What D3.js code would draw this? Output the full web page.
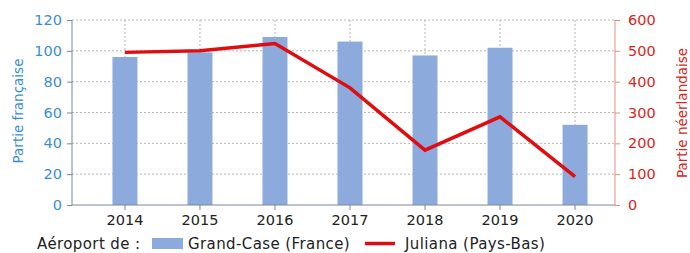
<!DOCTYPE html>
<html><head><meta charset="utf-8">
<script src="https://cdn.jsdelivr.net/npm/d3@7"></script>
<style>
html,body{margin:0;padding:0;background:#fff;}
svg{display:block;font-family:"DejaVu Sans",sans-serif;}
</style></head>
<body><svg id="c" width="690" height="253"></svg>
<script>
const years = ["2014","2015","2016","2017","2018","2019","2020"];
const grandCase = [96, 99, 109, 106, 97, 102, 52];
const juliana = [495, 500, 524, 380, 178, 286, 92];
const leftTicks = [0,20,40,60,80,100,120];
const rightTicks = [0,100,200,300,400,500,600];

(function(){
const svg = d3.select("#c");
const axL = 72, axR = 615, yTop = 20, yBot = 205;
const blue = "#3a8fd2", red = "#d9261c";

const x = d3.scaleBand().domain(years).range([87.5, 612.5]).paddingInner(0.667).paddingOuter(0.333);
const xc = d => x(d) + x.bandwidth()/2;
const yL = d3.scaleLinear().domain([0,120]).range([yBot, yTop]);
const yR = d3.scaleLinear().domain([0,600]).range([yBot, yTop]);

svg.append("g").selectAll("line").data(leftTicks.filter(d=>d>0)).join("line")
  .attr("x1", axL).attr("x2", axR).attr("y1", d=>yL(d)).attr("y2", d=>yL(d))
  .attr("stroke","#b5b5b5").attr("stroke-width",1).attr("stroke-dasharray","2,2");
svg.append("g").selectAll("line").data(years).join("line")
  .attr("x1", d=>xc(d)).attr("x2", d=>xc(d)).attr("y1", yTop).attr("y2", yBot)
  .attr("stroke","#b5b5b5").attr("stroke-width",1).attr("stroke-dasharray","2,2");

svg.append("g").selectAll("rect").data(years).join("rect")
  .attr("x", d=>x(d)).attr("width", x.bandwidth())
  .attr("y", (d,i)=>yL(grandCase[i])).attr("height", (d,i)=>yBot - yL(grandCase[i]))
  .attr("fill","#8caadb");

svg.append("path").datum(juliana)
  .attr("d", d3.line().x((d,i)=>xc(years[i])).y(d=>yR(d)))
  .attr("fill","none").attr("stroke","#e00c10").attr("stroke-width",3.5).attr("stroke-linejoin","miter");

const gL = svg.append("g").attr("transform",`translate(${axL},0)`)
  .call(d3.axisLeft(yL).tickValues(leftTicks).tickSize(5).tickPadding(5));
gL.select(".domain").attr("stroke","#7a86a3").attr("d",`M0,${yTop}V${yBot}`);
gL.selectAll(".tick line").attr("stroke","#7a86a3");
gL.selectAll("text").attr("fill",blue).style("font-size","14.5px").style("font-family","DejaVu Sans");

const gR = svg.append("g").attr("transform",`translate(${axR},0)`)
  .call(d3.axisRight(yR).tickValues(rightTicks).tickSize(5).tickPadding(8));
gR.select(".domain").attr("stroke","#e3907f").attr("d",`M0,${yTop}V${yBot}`);
gR.selectAll(".tick line").attr("stroke","#e3907f");
gR.selectAll("text").attr("fill",red).style("font-size","14.5px").style("font-family","DejaVu Sans");

const gB = svg.append("g").attr("transform",`translate(0,${yBot})`)
  .call(d3.axisBottom(x).tickSize(5).tickPadding(5));
gB.select(".domain").attr("stroke","#7a86a3").attr("d",`M${axL},0H${axR}`);
gB.selectAll(".tick line").attr("stroke","#7a86a3");
gB.selectAll("text").attr("fill","#222").style("font-size","14.5px").style("font-family","DejaVu Sans");

svg.append("text").attr("transform","translate(23,111) rotate(-90)")
  .attr("text-anchor","middle").attr("fill",blue).style("font-size","13.5px").text("Partie française");
svg.append("text").attr("transform","translate(687,113) rotate(-90)")
  .attr("text-anchor","middle").attr("fill",red).style("font-size","13.5px").text("Partie néerlandaise");

const lg = svg.append("g").style("font-size","15px").style("letter-spacing","0.4px").attr("fill","#222");
lg.append("text").attr("x",37).attr("y",249).text("Aéroport de :");
lg.append("rect").attr("x",152).attr("y",238).attr("width",31).attr("height",11).attr("fill","#8caadb");
lg.append("text").attr("x",188).attr("y",249).text("Grand-Case (France)");
lg.append("line").attr("x1",365).attr("x2",395).attr("y1",243.5).attr("y2",243.5).attr("stroke","#e00c10").attr("stroke-width",3.5);
lg.append("text").attr("x",405).attr("y",249).text("Juliana (Pays-Bas)");
})();
</script></body></html>
